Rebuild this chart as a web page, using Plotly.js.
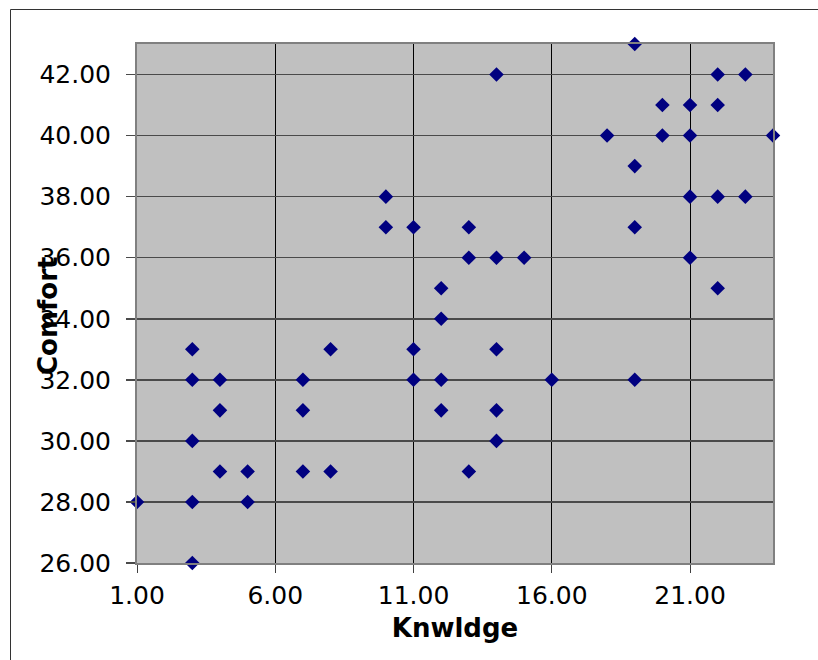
<!DOCTYPE html>
<html>
<head>
<meta charset="utf-8">
<script src="https://cdn.plot.ly/plotly-3.0.1.min.js"></script>
<style>html,body{margin:0;padding:0;background:#fff;}#chart{width:818px;height:660px;}</style>
</head>
<body>
<div id="chart"></div>
<script>
// Knwldge (x) and Comfort (y) values
const knwldge = [1, 3, 3, 3, 3, 3, 4, 4, 4, 5, 5, 7, 7, 7, 8, 8, 10, 10, 11, 11, 11,
  12, 12, 12, 12, 13, 13, 13, 14, 14, 14, 14, 14, 15, 16, 18, 19, 19, 19, 19,
  20, 20, 21, 21, 21, 21, 22, 22, 22, 22, 23, 23, 24];
const comfort = [28, 33, 32, 30, 28, 26, 32, 31, 29, 29, 28, 32, 31, 29, 33, 29, 38, 37, 37, 33, 32,
  35, 34, 32, 31, 37, 36, 29, 42, 36, 33, 31, 30, 36, 32, 40, 43, 39, 37, 32,
  41, 40, 41, 40, 38, 36, 42, 41, 38, 35, 42, 38, 40];
const xTitle = 'Knwldge';
const yTitle = 'Comfort';

const L = 137, R = 773, T = 44, B = 563, W = 818, H = 660;
const pw = R - L, ph = B - T;
const px = v => (v - L) / pw;
const py = v => 1 - (v - T) / ph;

const font = 'DejaVu Sans, Verdana, sans-serif';

Plotly.newPlot('chart', [{
  type: 'scatter',
  mode: 'markers',
  x: knwldge,
  y: comfort,
  cliponaxis: false,
  marker: {symbol: 'diamond', size: 11.2, color: '#000080', line: {width: 0}},
  hoverinfo: 'x+y'
}], {
  width: W, height: H,
  margin: {l: L, r: W - R, t: T, b: H - B, pad: 0},
  paper_bgcolor: '#ffffff',
  plot_bgcolor: '#c0c0c0',
  showlegend: false,
  font: {family: font, color: '#000000', size: 25},
  xaxis: {
    range: [1, 24], tick0: 1, dtick: 5, tickformat: '.2f',
    showgrid: true, gridcolor: '#000000', gridwidth: 1,
    zeroline: false,
    showline: true, mirror: true, linecolor: '#808080', linewidth: 2,
    ticks: 'outside', ticklen: 8, tickcolor: '#404040', tickwidth: 1,
    tickfont: {family: font, size: 25, color: '#000'},
    ticklabelstandoff: 1,
    title: {text: '<b>' + xTitle + '</b>', font: {family: font, size: 26, color: '#000'}, standoff: 10},
    automargin: false
  },
  yaxis: {
    range: [26, 43], tick0: 26, dtick: 2, tickformat: '.2f',
    showgrid: true, gridcolor: '#4a4a4a', gridwidth: 1.5,
    zeroline: false,
    showline: true, mirror: true, linecolor: '#808080', linewidth: 2,
    ticks: 'outside', ticklen: 9, tickcolor: '#4a4a4a', tickwidth: 1.5,
    tickfont: {family: font, size: 25, color: '#000'},
    ticklabelstandoff: 10,
    automargin: false
  },
  annotations: [{
    xref: 'paper', yref: 'paper', x: px(48), y: py(316),
    text: '<b>' + yTitle + '</b>', textangle: -90, showarrow: false,
    font: {family: font, size: 26, color: '#000'},
    xanchor: 'center', yanchor: 'middle'
  }],
  shapes: [{
    type: 'path', xref: 'paper', yref: 'paper',
    path: 'M ' + px(10.5) + ' ' + py(700) + ' L ' + px(10.5) + ' ' + py(9.5) + ' L ' + px(900) + ' ' + py(9.5),
    line: {color: '#333333', width: 1}, layer: 'below'
  }]
}, {staticPlot: true});
</script>
</body>
</html>
